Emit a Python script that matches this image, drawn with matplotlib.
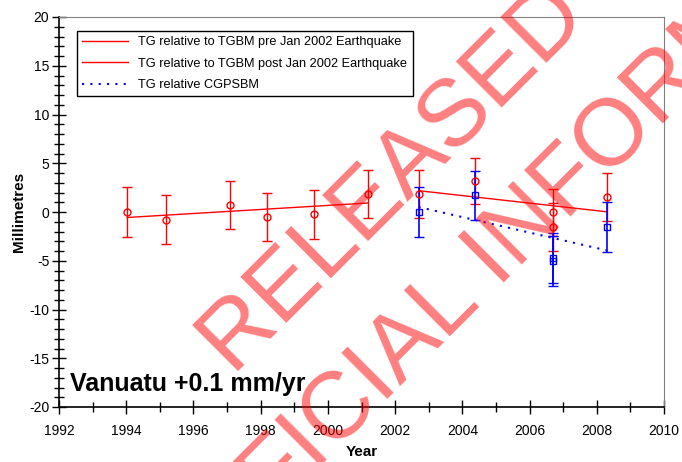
import numpy as np
import matplotlib.pyplot as plt
from matplotlib.lines import Line2D
from matplotlib.ticker import MultipleLocator

plt.rcParams["font.family"] = ["Liberation Sans", "DejaVu Sans"]
plt.rcParams["axes.unicode_minus"] = False

# TG relative to TGBM, before the Jan 2002 earthquake
pre_years = [1994.03, 1995.18, 1997.1, 1998.2, 1999.6, 2001.18]
pre_vals = [0.0, -0.8, 0.7, -0.5, -0.25, 1.85]
pre_err = [2.55, 2.5, 2.45, 2.5, 2.5, 2.45]

# TG relative to TGBM, after the earthquake
post_years = [2002.7, 2004.37, 2006.7, 2006.7, 2008.3]
post_vals = [1.85, 3.18, -0.03, -1.54, 1.57]
post_err = [2.45, 2.4, 2.4, 2.45, 2.46]

# TG relative to CGPSBM
cgps_years = [2002.7, 2004.37, 2006.7, 2006.7, 2008.3]
cgps_vals = [0.0, 1.71, -4.75, -5.0, -1.54]
cgps_err = [2.57, 2.53, 2.55, 2.55, 2.55]

labels = ["TG relative to TGBM pre Jan 2002 Earthquake",
          "TG relative to TGBM post Jan 2002 Earthquake",
          "TG relative CGPSBM"]


def fit_line(x, y):
    x = np.array(x)
    p = np.polyfit(x, y, 1)
    xx = np.array([x.min(), x.max()])
    return xx, np.polyval(p, xx)


fig = plt.figure(figsize=(6.82, 4.62), dpi=100)
ax = fig.add_axes([59/682, 55/462, 605/682, 390/462])

ax.errorbar(pre_years, pre_vals, yerr=pre_err, fmt="o", mfc="none", mec="red",
            ms=5, ecolor="red", elinewidth=1, capsize=3.3, capthick=1, zorder=3)
ax.errorbar(post_years, post_vals, yerr=post_err, fmt="o", mfc="none", mec="red",
            ms=5, ecolor="red", elinewidth=1, capsize=3.3, capthick=1, zorder=3)
ax.errorbar(cgps_years, cgps_vals, yerr=cgps_err, fmt="s", mfc="none", mec="blue",
            ms=5, ecolor="blue", elinewidth=1.2, capsize=3.3, capthick=1, zorder=3)

xx, yy = fit_line(pre_years, pre_vals)
ax.plot(xx, yy, color="red", lw=1)
xx, yy = fit_line(post_years, post_vals)
ax.plot(xx, yy, color="red", lw=1)
xx, yy = fit_line(cgps_years, cgps_vals)
ax.plot(xx, yy, color="blue", lw=1.5, ls=(0, (1, 3)))

ax.set_xlim(1992, 2010)
ax.set_ylim(-20, 20)
ax.xaxis.set_major_locator(MultipleLocator(2))
ax.xaxis.set_minor_locator(MultipleLocator(1))
ax.yaxis.set_major_locator(MultipleLocator(5))
ax.yaxis.set_minor_locator(MultipleLocator(1))
ax.tick_params(which="major", direction="inout", length=10, width=1, labelsize=10)
ax.tick_params(which="minor", direction="inout", length=7, width=1)
ax.tick_params(axis="x", pad=7)
ax.tick_params(axis="y", pad=2)
for s in ["top", "right"]:
    ax.spines[s].set_color("#808080")
for s in ["left", "bottom"]:
    ax.spines[s].set_linewidth(1.2)

ax.set_xlabel("Year", fontsize=11, fontweight="bold", labelpad=5)
ax.set_ylabel("Millimetres", fontsize=11, fontweight="bold", labelpad=2)

handles = [Line2D([], [], color="red", lw=1),
           Line2D([], [], color="red", lw=1),
           Line2D([], [], color="blue", lw=1.5, ls=(0, (1, 3)))]
leg = ax.legend(handles, labels, loc="upper left", bbox_to_anchor=(0.03, 0.964),
                borderaxespad=0, fontsize=9.2, handlelength=3.6, frameon=True,
                fancybox=False, edgecolor="black", framealpha=1, labelspacing=0.75)
leg.get_frame().set_linewidth(1)

ax.text(0.018, 0.04, "Vanuatu +0.1 mm/yr", transform=ax.transAxes,
        fontsize=18, fontweight="bold")

# watermark
wm = dict(fontsize=68, color=(1, 0, 0, 0.5), rotation=45, rotation_mode="anchor",
          ha="left", va="baseline", zorder=10)
fig.text(233/682, 1 - 376/462, "RELEASED UNDER THE", **wm)
fig.text(181/682, 1 - 605/462, "OFFICIAL INFORMATION ACT", **wm)

fig.savefig("out.png", dpi=100)
